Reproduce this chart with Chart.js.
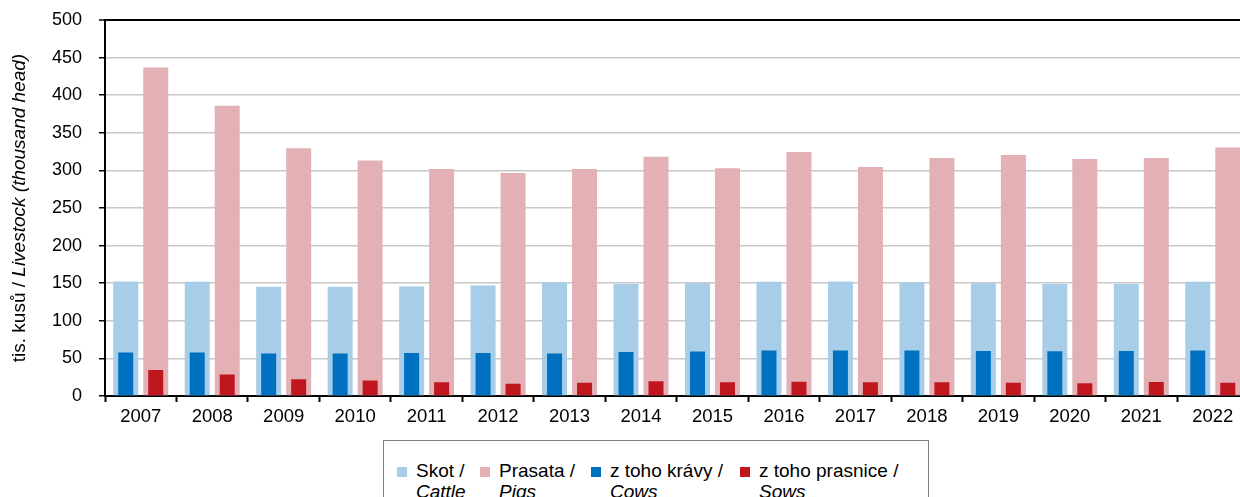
<!DOCTYPE html>
<html>
<head>
<meta charset="utf-8">
<script src="https://cdn.jsdelivr.net/npm/chart.js@4.4.1/dist/chart.umd.min.js"></script>
<style>
html,body{margin:0;padding:0;overflow:hidden;background:#fff;width:1240px;height:497px;}
#wrap{position:absolute;left:0;top:0;width:1250px;height:440px;}
#legend{position:absolute;left:383px;top:440px;width:546px;height:80px;border:1.5px solid #808080;box-sizing:border-box;font-family:"Liberation Sans",Arial,sans-serif;font-size:19px;color:#000;}
.mk{position:absolute;top:26px;width:10px;height:10px;}
.tx{position:absolute;top:19px;line-height:21px;white-space:nowrap;}
.tx i{font-style:italic;}
</style>
</head>
<body>
<div id="wrap"><canvas id="c" width="1250" height="440"></canvas></div>
<div id="legend"></div>
<script>
const years = ['2007','2008','2009','2010','2011','2012','2013','2014','2015','2016','2017','2018','2019','2020','2021','2022'];
const cattle = [152.4,151.9,145.2,145.2,145.7,147.1,151,149,150,151.9,152.4,151,150,149,149,151.9];
const pigs = [437,386,329.5,313,302,296.5,302,318,303,324.5,304.5,316.5,320.5,315,316.5,330.5];
const cows = [57.7,57.7,56.4,56.4,57.3,57.3,56.4,58.6,59.1,60.5,60.5,60.5,60,59.5,60,60.5];
const sows = [34.5,28.6,22.3,20.5,18.2,16.4,17.7,19.5,18.2,19.1,18.2,18.2,17.7,16.8,18.6,17.7];
const yTicks = [0,50,100,150,200,250,300,350,400,450,500];

const names = [
  {cz:'Skot /', en:'Cattle', color:'#a8cde8', left:13},
  {cz:'Prasata /', en:'Pigs', color:'#e2b0b5', left:96},
  {cz:'z toho krávy /', en:'Cows', color:'#0070c0', left:207},
  {cz:'z toho prasnice /', en:'Sows', color:'#c0171f', left:356}
];
const FONT = '"Liberation Sans", Arial, sans-serif';

const lg = document.getElementById('legend');
names.forEach(n => {
  const m = document.createElement('div');
  m.className = 'mk'; m.style.left = n.left + 'px'; m.style.background = n.color;
  lg.appendChild(m);
  const t = document.createElement('div');
  t.className = 'tx'; t.style.left = (n.left + 19) + 'px';
  t.innerHTML = n.cz + '<br><i>' + n.en + '</i>';
  lg.appendChild(t);
});

const yTitle = {
  id: 'yTitle',
  afterDraw(chart) {
    const ctx = chart.ctx;
    const a = 'tis. kusů / ', b = 'Livestock (thousand head)';
    ctx.save();
    ctx.font = '19px ' + FONT;
    const wa = ctx.measureText(a).width;
    ctx.font = 'italic 19px ' + FONT;
    const wb = ctx.measureText(b).width;
    const cy = (chart.chartArea.top + chart.chartArea.bottom) / 2;
    ctx.translate(25, cy);
    ctx.rotate(-Math.PI / 2);
    ctx.fillStyle = '#000';
    ctx.textBaseline = 'alphabetic';
    ctx.textAlign = 'left';
    const x0 = -(wa + wb) / 2;
    ctx.font = '19px ' + FONT;
    ctx.fillText(a, x0, 0);
    ctx.font = 'italic 19px ' + FONT;
    ctx.fillText(b, x0 + wa, 0);
    ctx.restore();
  }
};

const CP = 60 / 71.47;
new Chart(document.getElementById('c'), {
  type: 'bar',
  data: {
    labels: years,
    datasets: [
      {label:'Skot / Cattle', data: cattle, backgroundColor: names[0].color, stack:'a', order:1, barPercentage:0.833, categoryPercentage:CP},
      {label:'Prasata / Pigs', data: pigs, backgroundColor: names[1].color, stack:'b', order:1, barPercentage:0.833, categoryPercentage:CP},
      {label:'z toho krávy / Cows', data: cows, backgroundColor: names[2].color, stack:'a', order:0, barPercentage:0.5, categoryPercentage:CP},
      {label:'z toho prasnice / Sows', data: sows, backgroundColor: names[3].color, stack:'b', order:0, barPercentage:0.5, categoryPercentage:CP}
    ]
  },
  options: {
    responsive: false,
    animation: false,
    devicePixelRatio: 1,
    layout: {padding: {left: 0, right: 1.5, top: 20, bottom: 0}},
    plugins: {legend: {display: false}, tooltip: {enabled: false}, title: {display: false}},
    scales: {
      x: {
        grid: {drawOnChartArea: false, drawTicks: true, tickLength: 6, tickColor: '#000', tickWidth: 2, offset: true},
        border: {display: true, color: '#000', width: 2},
        ticks: {color: '#000', font: {family: FONT, size: 18.5}, padding: 4, maxRotation: 0, autoSkip: false},
        afterFit: s => { s.height = 44; s.paddingLeft = 0; s.paddingRight = 0; }
      },
      y: {
        min: 0, max: 500, stacked: false,
        afterBuildTicks: s => { s.ticks = yTicks.map(v => ({value: v})); },
        ticks: {color: '#000', font: {family: FONT, size: 18}, padding: 17},
        grid: {
          color: c => (c.tick && c.tick.value === 500) ? '#000' : '#c8c8c8',
          lineWidth: c => (c.tick && c.tick.value === 500) ? 2 : 1.5,
          tickColor: '#000', tickWidth: 1.5, tickLength: 6, drawTicks: true
        },
        border: {display: true, color: '#000', width: 2},
        afterFit: s => { s.width = 105; s.paddingTop = 0; s.paddingBottom = 0; }
      }
    }
  },
  plugins: [yTitle]
});
</script>
</body>
</html>
